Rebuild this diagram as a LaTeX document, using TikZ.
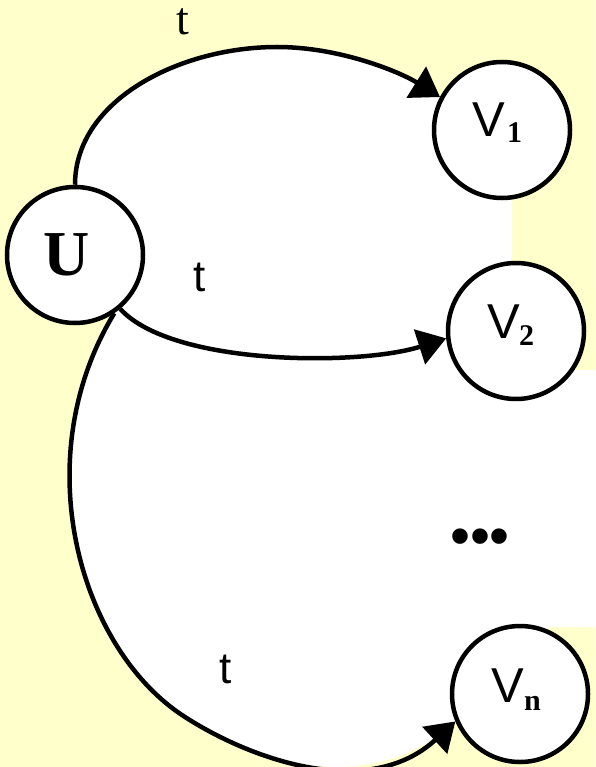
\documentclass[tikz,border=0pt]{standalone}
\usepackage{fontspec}
\setmainfont{Liberation Serif}
\setsansfont{Liberation Sans}
\usetikzlibrary{arrows.meta}
\definecolor{bgyellow}{RGB}{255,255,204}
\begin{document}
\begin{tikzpicture}[x=1pt,y=-1pt,
  vertex/.style={circle,draw=black,line width=4.5pt,fill=white,minimum size=136pt,inner sep=0pt},
  edge/.style={line width=4.5pt,-{Triangle[length=28pt,width=36pt]}},
  sanslbl/.style={font=\sffamily\fontsize{49}{49}\selectfont,inner sep=0pt,anchor=base west},
  sublbl/.style={font=\rmfamily\bfseries\fontsize{30}{30}\selectfont,inner sep=0pt,anchor=base west},
  tlbl/.style={font=\sffamily\fontsize{44}{44}\selectfont,inner sep=0pt}
]
\useasboundingbox (0,0) rectangle (595,767);
\fill[bgyellow] (0,0) rectangle (595,767);
\fill[white] (75,255) -- (75,185) .. controls (75,100) and (180,47) .. (277,47)
  .. controls (340,47) and (400,72) .. (440,97) -- (512,130) -- (512,370) -- (595,370)
  -- (595,627) -- (547,627) -- (547,700) -- (455,721)
  .. controls (370,800) and (255,762) .. (185,717)
  .. controls (80,650) and (25,460) .. (114,313) -- cycle;
\node[vertex] (U) at (75,255) {};
\node[vertex] (V1) at (502,130) {};
\node[vertex] (V2) at (516,331) {};
\node[vertex] (Vn) at (520,694) {};
\draw[edge] (U.north) .. controls (75,100) and (180,47) .. (277,47)
  .. controls (340,47) and (400,72) .. (V1.152);
\draw[edge] (U.-50) .. controls (172,366) and (360,366) .. (V2.186);
\draw[edge] (U.-56) .. controls (25,460) and (80,650) .. (185,717)
  .. controls (255,762) and (370,800) .. (Vn.203);
\node[font=\rmfamily\bfseries\fontsize{64}{64}\selectfont,inner sep=0pt] (Ul) at (67,255) {U};
\node[sanslbl] (V1a) at (472,137) {V};
\node[sublbl] (V1b) at (507,143) {1};
\node[sanslbl] (V2a) at (487,338) {V};
\node[sublbl] (V2b) at (519,345) {2};
\node[sanslbl] (Vna) at (491,702) {V};
\node[sublbl] (Vnb) at (524,710) {n};
\node[font=\rmfamily\fontsize{46}{46}\selectfont,inner sep=0pt] (t1) at (183,22) {t};
\node[tlbl] (t2) at (199.5,277.5) {t};
\node[tlbl] (t3) at (226,669) {t};
\node[font=\sffamily\fontsize{57}{57}\selectfont,inner sep=0pt] (dots) at (480,542) {•••};
\end{tikzpicture}
\end{document}
